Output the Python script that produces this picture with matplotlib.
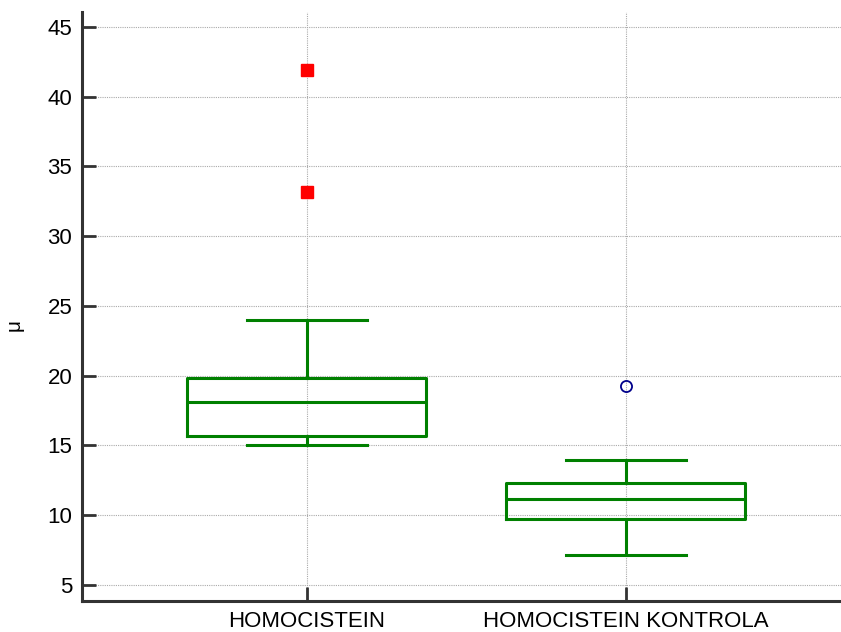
import matplotlib
matplotlib.use("Agg")
import matplotlib.pyplot as plt

plt.rcParams['font.family'] = ['Liberation Sans', 'DejaVu Sans']

# data
labels = ["HOMOCISTEIN", "HOMOCISTEIN KONTROLA"]
q1 = [15.7, 9.7]
med = [18.1, 11.15]
q3 = [19.85, 12.3]
wlo = [15.05, 7.15]
whi = [24.0, 13.95]
far_out = [[41.9, 33.15], []]    # red squares
near_out = [[], [19.25]]         # open circles

stats = []
for i in range(len(labels)):
    stats.append(dict(label=labels[i], q1=q1[i], med=med[i], q3=q3[i],
                      whislo=wlo[i], whishi=whi[i], fliers=[]))

fig = plt.figure(figsize=(8.41, 6.32), dpi=100)
ax = fig.add_axes([82/841, 31/632, 759/841, 589/632])

green = "#008000"
lw = 2.2
ax.bxp(stats, positions=[1, 2], widths=0.75, showfliers=False,
       boxprops=dict(color=green, linewidth=lw),
       medianprops=dict(color=green, linewidth=lw),
       whiskerprops=dict(color=green, linewidth=lw),
       capprops=dict(color=green, linewidth=lw),
       capwidths=0.375, zorder=3)

for i in range(len(labels)):
    if far_out[i]:
        ax.plot([i + 1] * len(far_out[i]), far_out[i], 's', color='#ff0000',
                markersize=8, zorder=4)
    if near_out[i]:
        ax.plot([i + 1] * len(near_out[i]), near_out[i], 'o', mfc='none',
                mec='#00008b', mew=1.3, markersize=8, zorder=4)

ax.set_xlim(0.295, 2.675)
ax.set_ylim(3.85, 46.07)
ax.set_yticks([5, 10, 15, 20, 25, 30, 35, 40, 45])
ax.set_xticks([1, 2])
ax.set_xticklabels(labels)
ax.set_ylabel("μ", fontsize=15)
ax.yaxis.set_label_coords(-0.077, 0.469)

ax.grid(True, color='#aaaaaa', linestyle=(0, (1, 1)), linewidth=0.8)
ax.set_axisbelow(True)

for s in ['top', 'right']:
    ax.spines[s].set_visible(False)
for s in ['left', 'bottom']:
    ax.spines[s].set_color('#333333')
    ax.spines[s].set_linewidth(2.2)

ax.tick_params(axis='both', direction='in', length=10, width=2.0,
               color='#333333', labelsize=16)
ax.tick_params(axis='y', pad=7)
ax.tick_params(axis='x', pad=7)

fig.savefig("out.png", dpi=100)
